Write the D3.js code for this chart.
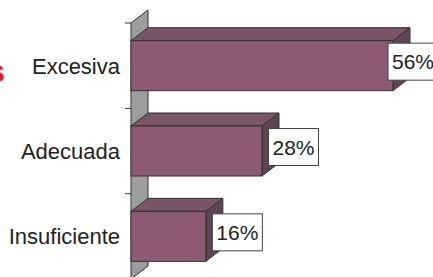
<!DOCTYPE html>
<meta charset="utf-8">
<script src="https://d3js.org/d3.v7.min.js"></script>
<style>
  body { margin: 0; background: #fff; }
  svg { display: block; font-family: Arial, "Liberation Sans", sans-serif; }
</style>
<div id="my_dataviz"></div>
<script>
// Data
var categories = ["Excesiva", "Adecuada", "Insuficiente"];
var values = [0.56, 0.28, 0.16];
var valueLabels = ["56%", "28%", "16%"];

var W = 433, H = 277;
// front plane of the 3D plot
var plotLeft = 131, plotTop = 23, plotBottom = 279;
var dx = 17, dy = -13;   // depth offset

var svg = d3.select("#my_dataviz")
  .append("svg")
    .attr("width", W)
    .attr("height", H);

var x = d3.scaleLinear()
  .domain([0, 0.6])
  .range([plotLeft, plotLeft + 280.7]);

var y = d3.scaleBand()
  .domain(categories)
  .range([plotTop, plotBottom])
  .paddingInner(0.414)
  .paddingOuter(0.207);

// cut-off title on the left (only its last letter is in view)
svg.append("text")
  .attr("x", 5)
  .attr("y", 82)
  .attr("text-anchor", "end")
  .style("font-size", "31px")
  .style("font-weight", "bold")
  .style("fill", "#f01c1c")
  .text("s");

// side wall
svg.append("path")
  .attr("d", "M" + plotLeft + "," + plotTop + "L" + (plotLeft + dx) + "," + (plotTop + dy) +
             "L" + (plotLeft + dx) + "," + (plotBottom + dy) + "L" + plotLeft + "," + plotBottom + "Z")
  .attr("fill", "#9c9d9f")
  .attr("stroke", "#333")
  .attr("stroke-width", 1);

// ticks at band boundaries
var step = y.step();
var tickYs = categories.map(function(c) { return y(c) - y.paddingInner() * step / 2; });
tickYs.push(plotBottom);
svg.selectAll("mytick")
  .data(tickYs)
  .enter()
  .append("line")
    .attr("x1", plotLeft - 6)
    .attr("x2", plotLeft)
    .attr("y1", function(d) { return d; })
    .attr("y2", function(d) { return d; })
    .attr("stroke", "#333");

var bars = svg.selectAll("mybars")
  .data(values)
  .enter()
  .append("g");

// top face
bars.append("path")
  .attr("d", function(d, i) {
    var x0 = x(0), x1 = x(d), y0 = y(categories[i]);
    return "M" + x0 + "," + y0 + "L" + (x0 + dx) + "," + (y0 + dy) +
           "L" + (x1 + dx) + "," + (y0 + dy) + "L" + x1 + "," + y0 + "Z";
  })
  .attr("fill", "#7a5467")
  .attr("stroke", "#333")
  .attr("stroke-width", 1);

// side face
bars.append("path")
  .attr("d", function(d, i) {
    var x1 = x(d), y0 = y(categories[i]), y1 = y0 + y.bandwidth();
    return "M" + x1 + "," + y0 + "L" + (x1 + dx) + "," + (y0 + dy) +
           "L" + (x1 + dx) + "," + (y1 + dy) + "L" + x1 + "," + y1 + "Z";
  })
  .attr("fill", "#5f4455")
  .attr("stroke", "#333")
  .attr("stroke-width", 1);

// front face
bars.append("rect")
  .attr("x", x(0))
  .attr("y", function(d, i) { return y(categories[i]); })
  .attr("width", function(d) { return x(d) - x(0); })
  .attr("height", y.bandwidth())
  .attr("fill", "#8c5a74")
  .attr("stroke", "#333")
  .attr("stroke-width", 1);

// value label boxes
var boxW = 50, boxH = 37;
function boxX(d) { return Math.min(x(d) + 6.5, 388); }
function midY(i) { return y(categories[i]) + y.bandwidth() / 2 - 4; }

bars.append("rect")
  .attr("x", function(d) { return boxX(d); })
  .attr("y", function(d, i) { return midY(i) - boxH / 2; })
  .attr("width", boxW)
  .attr("height", boxH)
  .attr("fill", "#fff")
  .attr("stroke", "#444")
  .attr("stroke-width", 1);

bars.append("text")
  .attr("x", function(d) { return boxX(d) + boxW / 2; })
  .attr("y", function(d, i) { return midY(i) + 7.5; })
  .attr("text-anchor", "middle")
  .style("font-size", "21px")
  .style("fill", "#222")
  .text(function(d, i) { return valueLabels[i]; });

// category labels
svg.selectAll("mylabels")
  .data(categories)
  .enter()
  .append("text")
    .attr("x", 120)
    .attr("y", function(d) { return y(d) + y.bandwidth() / 2 + 8; })
    .attr("text-anchor", "end")
    .style("font-size", "22px")
    .style("fill", "#222")
    .text(function(d) { return d; });
</script>
